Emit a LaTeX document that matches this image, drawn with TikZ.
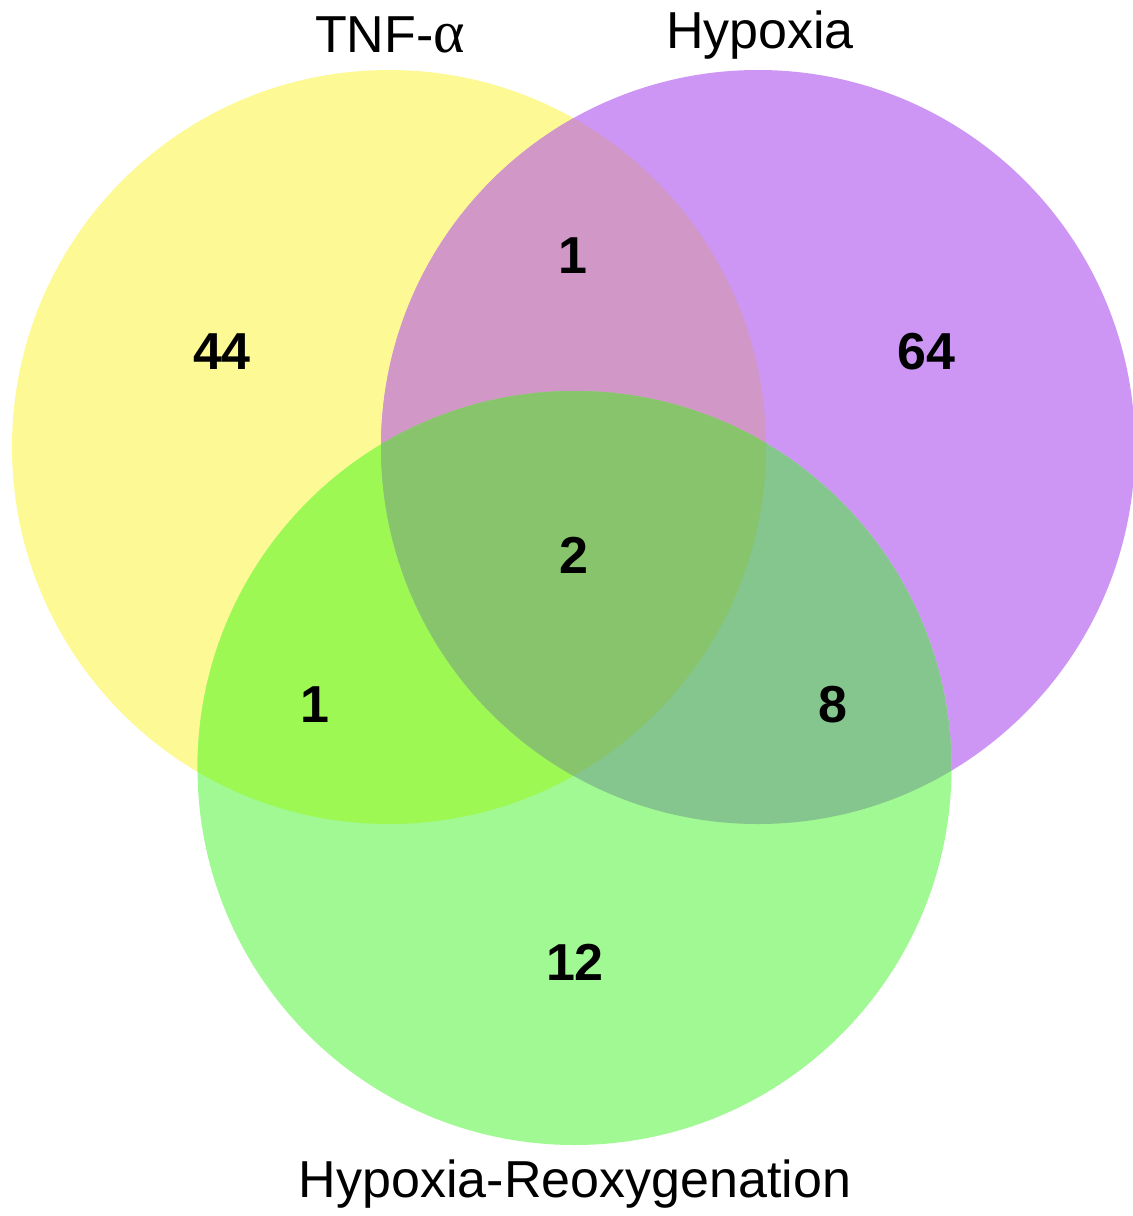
\documentclass[tikz,border=0pt]{standalone}
\usepackage{fontspec}
\setmainfont{Liberation Sans}
\newfontfamily\greekserif{Liberation Serif}
\definecolor{cY}{HTML}{FDF994}
\definecolor{cP}{HTML}{CD96F5}
\definecolor{cG}{HTML}{A0F992}
\definecolor{cYP}{HTML}{D197C6}
\definecolor{cYG}{HTML}{9EF853}
\definecolor{cPG}{HTML}{84C68E}
\definecolor{cYPG}{HTML}{87C46C}
\tikzset{
  setlabel/.style={font=\fontsize{26}{30}\selectfont, text=black, inner sep=0pt},
  countlabel/.style={font=\fontsize{26}{30}\selectfont\bfseries, text=black, inner sep=0pt}
}
\begin{document}
\begin{tikzpicture}[x=0.5pt,y=-0.5pt]
\useasboundingbox (0,0) rectangle (1133,1216);
\fill[white] (0,0) rectangle (1133,1216);
\def\rr{377}
\coordinate (cy) at (389,447);
\coordinate (cp) at (758,447);
\coordinate (cg) at (574.5,768);
% base circles
\fill[cY] (cy) circle[radius=\rr];
\fill[cP] (cp) circle[radius=\rr];
\fill[cG] (cg) circle[radius=\rr];
% pairwise overlaps
\begin{scope}
  \clip (cy) circle[radius=\rr];
  \fill[cYP] (cp) circle[radius=\rr];
  \fill[cYG] (cg) circle[radius=\rr];
\end{scope}
\begin{scope}
  \clip (cp) circle[radius=\rr];
  \fill[cPG] (cg) circle[radius=\rr];
\end{scope}
% triple overlap
\begin{scope}
  \clip (cy) circle[radius=\rr];
  \clip (cp) circle[radius=\rr];
  \fill[cYPG] (cg) circle[radius=\rr];
\end{scope}
% set labels
\node[setlabel] (lt) at (390,35) {TNF-{\greekserif\fontsize{30}{30}\selectfont α}};
\node[setlabel] (lh) at (760,35) {Hypoxia};
\node[setlabel] (lhr) at (575,1184) {Hypoxia-Reoxygenation};
% counts
\node[countlabel] (n1) at (222,352) {44};
\node[countlabel] (n2) at (573,256) {1};
\node[countlabel] (n3) at (926,352) {64};
\node[countlabel] (n4) at (574,555) {2};
\node[countlabel] (n5) at (315,705) {1};
\node[countlabel] (n6) at (833,705) {8};
\node[countlabel] (n7) at (575,962) {12};
\end{tikzpicture}
\end{document}
